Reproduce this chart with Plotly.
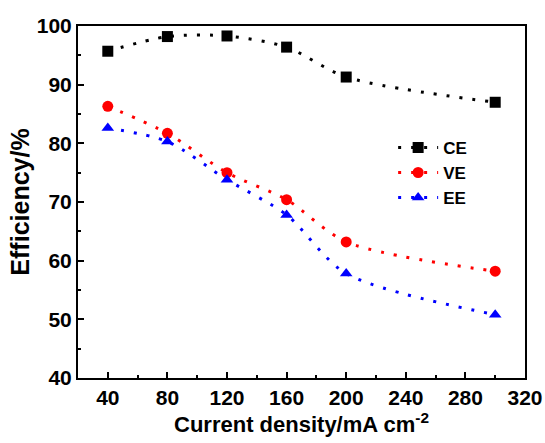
import plotly.graph_objects as go

current_density = [40, 80, 120, 160, 200, 300]
ce = [95.7, 98.2, 98.3, 96.4, 91.3, 87.0]
ve = [86.3, 81.7, 75.0, 70.4, 63.2, 58.2]
ee = [82.6, 80.3, 73.8, 67.8, 57.8, 50.8]

series = [
    ("CE", ce, "black", "square"),
    ("VE", ve, "red", "circle"),
    ("EE", ee, "blue", "triangle-up"),
]

fig = go.Figure()
for name, vals, color, sym in series:
    fig.add_trace(go.Scatter(
        x=current_density, y=vals, name=name, mode="lines+markers",
        line=dict(color=color, dash="3px,10px", width=3, shape="spline", smoothing=0.8),
        marker=dict(symbol=sym, size=11, color=color),
    ))

font = "Liberation Sans, Arial, sans-serif"
axis_common = dict(
    showgrid=False, zeroline=False, showline=True, linecolor="black", linewidth=2,
    mirror=True, ticks="inside", tickcolor="black", tickwidth=2, ticklen=6,
    automargin=False,
    tickfont=dict(family=font, size=21, color="black", weight="bold"),
)
fig.update_layout(
    width=545, height=443,
    margin=dict(l=78, r=20, t=26, b=65),
    paper_bgcolor="white", plot_bgcolor="white",
    showlegend=True,
    legend=dict(x=0.705, y=0.705, xanchor="left", yanchor="top", bgcolor="rgba(0,0,0,0)",
                font=dict(family=font, size=17, color="black", weight="bold"),
                itemwidth=40, tracegroupgap=0),
    xaxis=dict(range=[20, 320], tickvals=[40, 80, 120, 160, 200, 240, 280, 320],
               minor=dict(dtick=20, ticks="inside", ticklen=3, tickcolor="black", tickwidth=2),
               title=dict(text="Current density/mA cm<sup>-2</sup>", standoff=2,
                          font=dict(family=font, size=22, color="black", weight="bold")),
               **axis_common),
    yaxis=dict(range=[40, 100], dtick=10,
               minor=dict(dtick=5, ticks="inside", ticklen=3, tickcolor="black", tickwidth=2),
               title=dict(text="Efficiency/%", standoff=0,
                          font=dict(family=font, size=25, color="black", weight="bold")),
               **axis_common),
)

fig.write_html("out.html")
